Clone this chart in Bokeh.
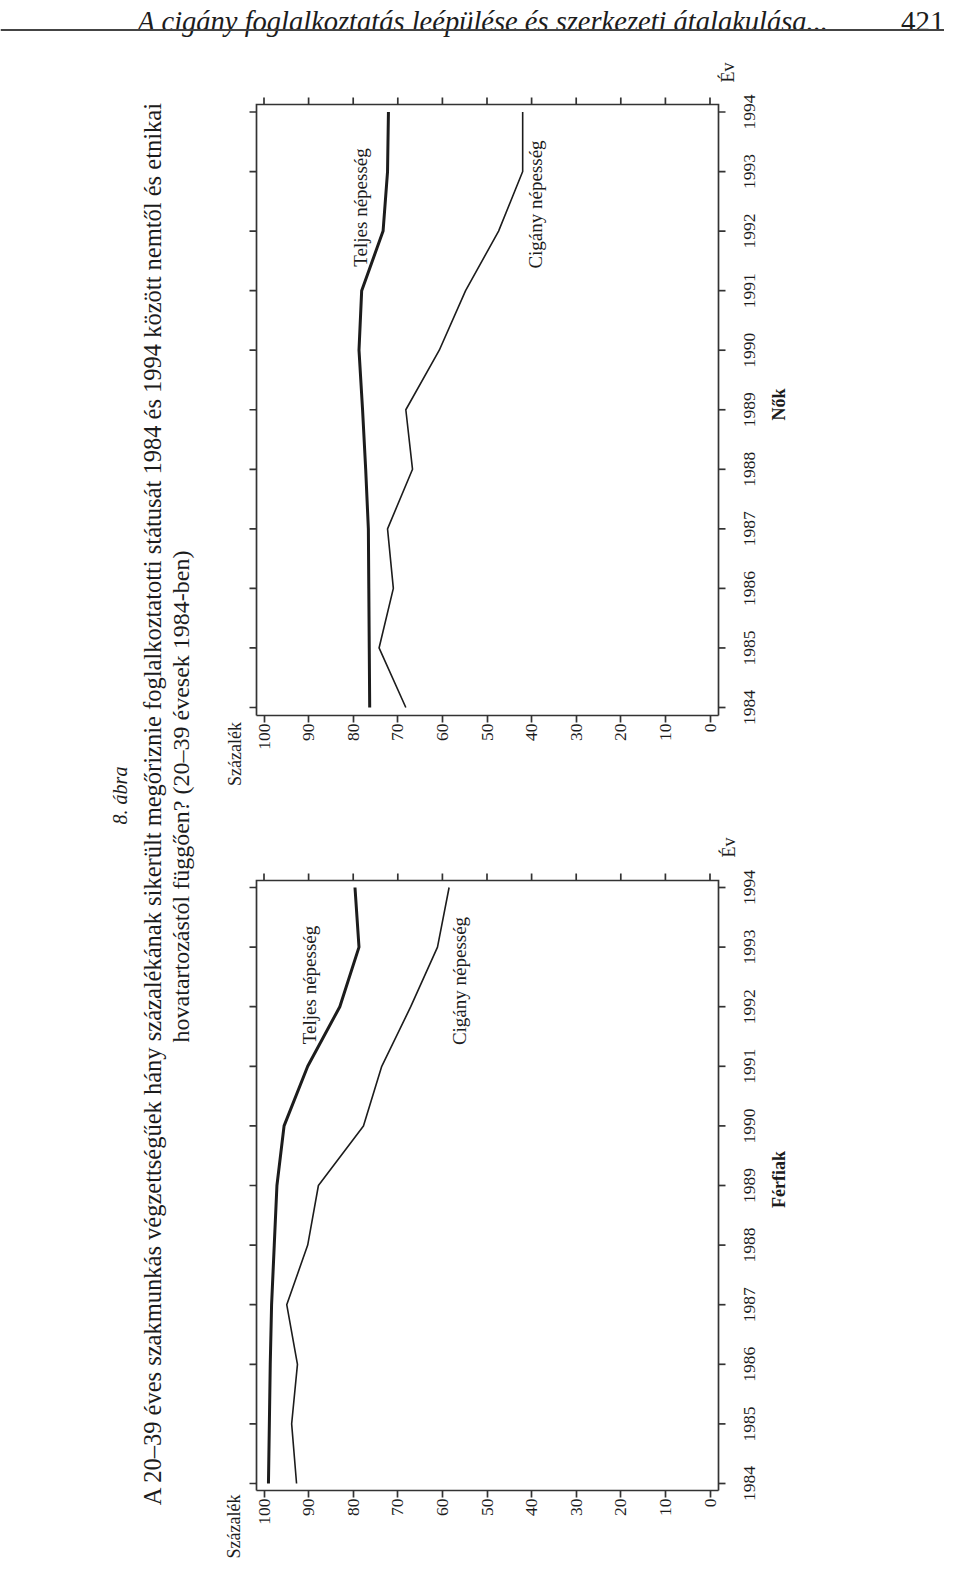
import math
from bokeh.plotting import figure
from bokeh.models import Range1d, LinearAxis, FixedTicker
from bokeh.embed import file_html
from bokeh.resources import INLINE
from bokeh.core.properties import value

# ---------------- data ----------------
years = [1984, 1985, 1986, 1987, 1988, 1989, 1990, 1991, 1992, 1993, 1994]
year_labels = [str(y) for y in years]
pct_ticks = [0, 10, 20, 30, 40, 50, 60, 70, 80, 90, 100]

nok_teljes = [76.3, 76.4, 76.5, 76.6, 77.2, 77.9, 78.7, 78.1, 73.3, 72.3, 72.1]
nok_cigany = [68.2, 74.2, 71.0, 72.3, 66.7, 68.2, 60.7, 54.8, 47.4, 42.0, 42.0]
ferfi_teljes = [99.0, 98.8, 98.6, 98.3, 97.7, 97.1, 95.5, 90.2, 83.0, 78.7, 79.6]
ferfi_cigany = [92.7, 93.8, 92.5, 94.9, 90.2, 87.8, 77.7, 73.6, 67.1, 61.1, 58.5]

series_names = ["Teljes népesség", "Cigány népesség"]
panel_names = ["Nők", "Férfiak"]
axis_x_name = "Százalék"
axis_y_name = "Év"

header_text = "A cigány foglalkoztatás leépülése és szerkezeti átalakulása..."
page_no = "421"
fig_no = "8. ábra"
title_1 = ("A 20\u201339 éves szakmunkás végzettségűek hány százalékának sikerült "
           "megőriznie foglalkoztatotti státusát 1984 és 1994 között nemtől és etnikai")
title_2 = "hovatartozástól függően? (20\u201339 évesek 1984-ben)"

FONT = "Liberation Serif"
INK = "#1c1c1c"
FRAME = "#333333"

# ---------------- page geometry (pixels) ----------------
W, H = 944, 1560
OX, OY = 8, 8                      # page margin

def px(x):                         # page x -> pixel-range x
    return x - OX

def py(y):                         # page y -> pixel-range y (upwards)
    return (OY + H) - y

# percent axis: where 100 and 0 fall, horizontally
X100, X0 = 271.5, 717.5
PPU = (X0 - X100) / 100.0
def pct_at(x):
    return (X0 - x) / PPU

BOX_L, BOX_R = 264, 726            # plot box left/right edges (page x)
YEAR_LABEL_BASE = 757              # baseline of the rotated year labels (page x)

# panels: (y of 1994 tick, y of 1984 tick, box top, box bottom)
PANELS = {
    "nok": (119.5, 715.0, 112, 723),
    "ferf": (895.0, 1491.0, 888, 1498),
}

def year_map(key):
    y94, y84, _, _ = PANELS[key]
    ppy = (y84 - y94) / 10.0
    return lambda y: 1994 + (y94 - y) / ppy, ppy

p = figure(width=W, height=H, x_range=Range1d(0, W), y_range=Range1d(0, H),
           output_backend="svg", toolbar_location=None, min_border=0,
           x_axis_location=None, y_axis_location=None, outline_line_color=None)
p.grid.visible = False

extra_y = {}
yr = {}
for key in PANELS:
    f, ppy = year_map(key)
    yr[key] = (f, ppy)
    extra_y[key] = Range1d(f(OY + H), f(OY))
p.extra_x_ranges = {"pct": Range1d(pct_at(OX), pct_at(OX + W))}
p.extra_y_ranges = extra_y

# ---------------- header ----------------
p.text(x=[px(836)], y=[py(29)], text=[header_text], text_align="right",
       text_baseline="alphabetic", text_font=value(FONT), text_font_style="italic",
       text_font_size="28.5px", text_color=INK)
p.text(x=[px(952)], y=[py(29)], text=[page_no], text_align="right",
       text_baseline="alphabetic", text_font=value(FONT), text_font_size="29px",
       text_color=INK)
p.line(x=[px(OX), px(955)], y=[py(37.5), py(37.5)], line_width=2.2, line_color="#444444")

# ---------------- rotated title block ----------------
p.text(x=[px(127)], y=[py(803)], text=[fig_no], angle=math.pi / 2, text_align="center",
       text_baseline="middle", text_font=value(FONT), text_font_style="italic",
       text_font_size="20px", text_color=INK)
p.text(x=[px(159.5)], y=[py(811)], text=[title_1],
       angle=math.pi / 2, text_align="center", text_baseline="middle",
       text_font=value(FONT), text_font_size="24.5px", text_color=INK)
p.text(x=[px(188.5)], y=[py(804)], text=[title_2],
       angle=math.pi / 2, text_align="center", text_baseline="middle",
       text_font=value(FONT), text_font_size="24px", text_color=INK)


# ---------------- charts ----------------
def style_axis(a, ticks, standoff, orient):
    a.ticker = FixedTicker(ticks=ticks, minor_ticks=[])
    a.axis_line_color = FRAME
    a.axis_line_width = 1.7
    a.major_tick_line_color = FRAME
    a.major_tick_line_width = 1.7
    a.major_tick_out = 7
    a.major_tick_in = 0
    a.minor_tick_out = 0
    a.minor_tick_in = 0
    a.major_label_orientation = orient
    a.major_label_text_font = FONT
    a.major_label_text_font_size = "17.5px"
    a.major_label_text_color = INK
    a.major_label_standoff = standoff
    return a


def chart(key, teljes, cigany, name, labels):
    f, ppy = yr[key]
    _, _, top, bottom = PANELS[key]
    y_top, y_bot = f(top), f(bottom)
    x_left, x_right = pct_at(BOX_L), pct_at(BOX_R)
    rk = dict(x_range_name="pct", y_range_name=key)

    # percent axis along the bottom edge of the box
    xa = LinearAxis(fixed_location=y_bot, bounds=(x_right, x_left), **rk)
    p.add_layout(style_axis(xa, pct_ticks, 1, math.pi / 2), "below")

    # right, top and left edges of the box, with outward ticks
    p.line(x=[x_right, x_right, x_left, x_left], y=[y_bot, y_top, y_top, y_bot],
           line_width=1.7, line_color=FRAME, line_join="miter", **rk)
    dt = 7 / ppy
    dx = 7 / PPU
    n_p, n_y = len(pct_ticks), len(years)
    p.segment(x0=pct_ticks, x1=pct_ticks, y0=[y_top] * n_p, y1=[y_top + dt] * n_p,
              line_width=1.7, line_color=FRAME, **rk)
    p.segment(x0=[x_left] * n_y, x1=[x_left + dx] * n_y, y0=years, y1=years,
              line_width=1.7, line_color=FRAME, **rk)
    p.segment(x0=[x_right] * n_y, x1=[x_right - dx] * n_y, y0=years, y1=years,
              line_width=1.7, line_color=FRAME, **rk)
    # year tick labels, rotated, reading bottom to top
    p.text(x=[pct_at(YEAR_LABEL_BASE)] * n_y, y=years, text=year_labels,
           angle=math.pi / 2, text_align="center", text_baseline="alphabetic",
           text_font=value(FONT), text_font_size="17.5px", text_color=INK, **rk)

    # series
    p.line(x=teljes, y=years, line_width=3.0, line_color=INK, line_join="round", **rk)
    p.line(x=cigany, y=years, line_width=1.6, line_color=INK, line_join="round", **rk)

    def lbl(pos, text, size, style="normal"):
        p.text(x=[px(pos[0])], y=[py(pos[1])], text=[text], angle=math.pi / 2,
               text_align="center", text_baseline="middle", text_font=value(FONT),
               text_font_size=size, text_font_style=style, text_color=INK)

    lbl(labels["t"], series_names[0], "19px")
    lbl(labels["c"], series_names[1], "19px")
    lbl(labels["sz"], axis_x_name, "18px")
    lbl(labels["ev"], axis_y_name, "18px")
    lbl(labels["n"], name, "18px", "bold")


chart("nok", nok_teljes, nok_cigany, panel_names[0],
      {"t": (368, 215), "c": (543, 212), "sz": (242.5, 761.5), "ev": (735, 80),
       "n": (786, 412)})
chart("ferf", ferfi_teljes, ferfi_cigany, panel_names[1],
      {"t": (317, 992.5), "c": (466.5, 988.5), "sz": (241, 1534), "ev": (736, 855),
       "n": (786, 1187)})

open("out.html", "w").write(file_html(p, INLINE))
